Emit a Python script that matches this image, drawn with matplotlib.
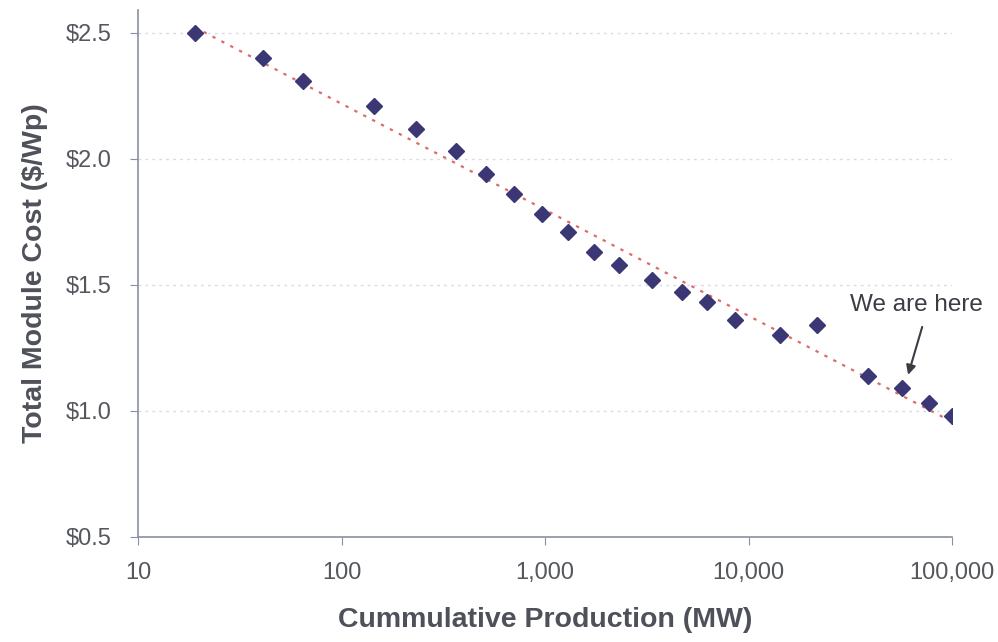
import matplotlib.pyplot as plt
import numpy as np

# data
production_mw = [19, 41, 65, 145, 232, 366, 513, 704, 967, 1300, 1740, 2310,
                 3350, 4710, 6250, 8590, 14300, 21700, 38600, 56800, 77100, 100000]
module_cost = [2.50, 2.40, 2.31, 2.21, 2.12, 2.03, 1.94, 1.86, 1.78, 1.71, 1.63, 1.58,
               1.52, 1.47, 1.43, 1.36, 1.30, 1.34, 1.14, 1.09, 1.03, 0.98]

x_ticks = [10, 100, 1000, 10000, 100000]
x_tick_labels = ["10", "100", "1,000", "10,000", "100,000"]
y_ticks = [0.5, 1.0, 1.5, 2.0, 2.5]
y_tick_labels = ["$0.5", "$1.0", "$1.5", "$2.0", "$2.5"]

plt.rcParams['font.family'] = ['Liberation Sans', 'DejaVu Sans']

fig = plt.figure(figsize=(9.98, 6.42), dpi=100)
ax = fig.add_axes([0.1383, 0.1636, 0.8157, 0.8208])

# logarithmic trend line (straight on the log x axis)
slope, icpt = np.polyfit(np.log10(production_mw), module_cost, 1)
fit_x = np.array([production_mw[0], production_mw[-1]])
fit_y = icpt + slope * np.log10(fit_x)
ax.plot(fit_x, fit_y, linestyle=(0, (1.5, 3)), color="#e06a6a", linewidth=1.6, zorder=2)

ax.plot(production_mw, module_cost, linestyle="none", marker="D", markersize=8,
        color="#3b3775", zorder=3)

ax.set_xscale("log")
ax.set_xlim(10, 100000)
ax.set_ylim(0.5, 2.59)
ax.set_xticks(x_ticks)
ax.set_xticklabels(x_tick_labels)
ax.set_yticks(y_ticks)
ax.set_yticklabels(y_tick_labels)
ax.minorticks_off()

ax.yaxis.grid(True, linestyle=(0, (2, 3)), color="#d8dce4", linewidth=1)
ax.set_axisbelow(True)

for side in ["top", "right"]:
    ax.spines[side].set_visible(False)
for side in ["left", "bottom"]:
    ax.spines[side].set_color("#8a90a4")
    ax.spines[side].set_linewidth(1.2)

ax.tick_params(axis="both", direction="out", length=6, color="#8a90a4",
               labelsize=17, labelcolor="#55575f")
ax.tick_params(axis="x", pad=12)
ax.tick_params(axis="y", pad=13)

ax.set_xlabel("Cummulative Production (MW)", fontsize=20.5, fontweight="bold",
              color="#4f515a")
ax.set_ylabel("Total Module Cost ($/Wp)", fontsize=20.5, fontweight="bold",
              color="#4f515a")
ax.xaxis.set_label_coords(0.5, -0.133)
ax.yaxis.set_label_coords(-0.111, 0.5)

ax.text(66500, 1.42, "We are here", fontsize=17.5, color="#3c3c44",
        ha="center", va="center")
ax.annotate("", xy=(60800, 1.143), xytext=(71300, 1.333),
            arrowprops=dict(arrowstyle="-|>", color="#3c3c44", lw=1.5,
                            shrinkA=0, shrinkB=0, mutation_scale=14))

fig.savefig("out.png", dpi=100, facecolor="white")
